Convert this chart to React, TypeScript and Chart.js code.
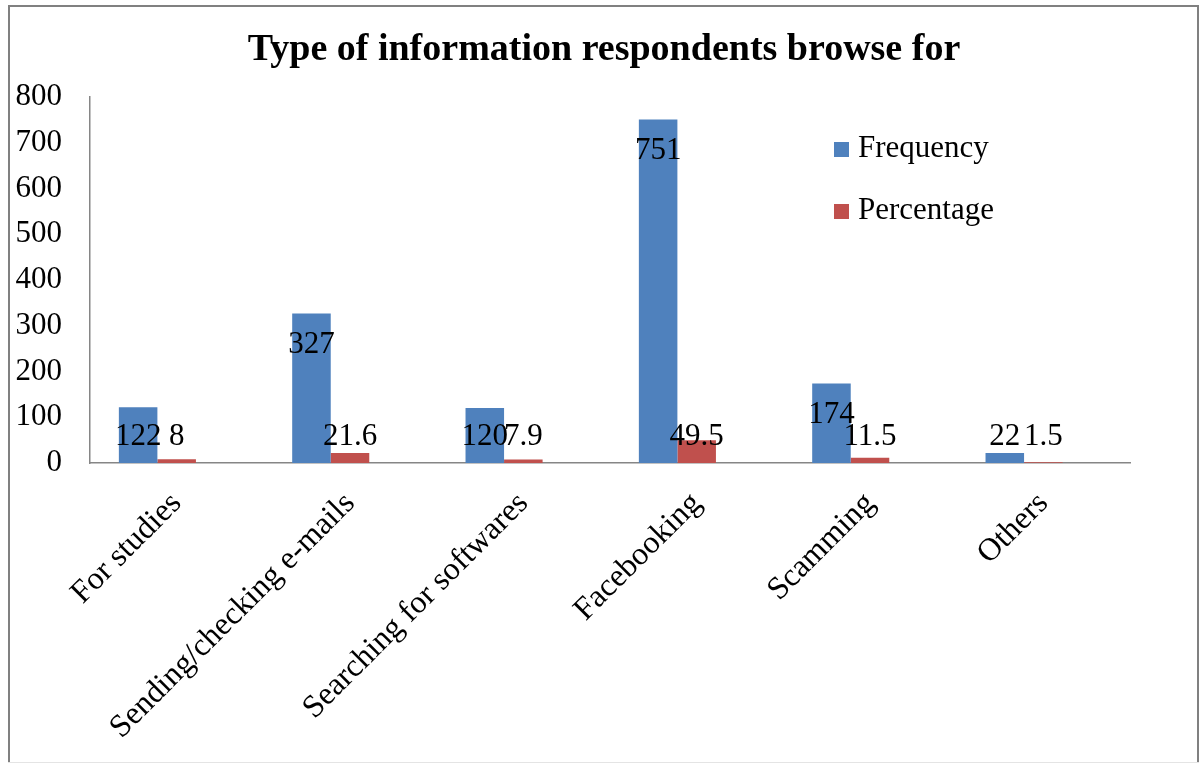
import React, { useEffect, useRef } from "react";
import { Chart, registerables } from "chart.js";

Chart.register(...registerables);

const chartTitle = "Type of information respondents browse for";
const categories = [
  "For studies",
  "Sending/checking e-mails",
  "Searching for softwares",
  "Facebooking",
  "Scamming",
  "Others",
];
const frequency = [122, 327, 120, 751, 174, 22];
const percentage = [8, 21.6, 7.9, 49.5, 11.5, 1.5];
// the source chart reserves an (empty) third column slot in each group
const emptySlot = [null, null, null, null, null, null];
const seriesNames = ["Frequency", "Percentage"];
const seriesColors = ["#4F81BD", "#C0504D"];
const yMin = 0;
const yMax = 800;
const yStep = 100;

const FONT = "'Liberation Serif', 'Times New Roman', serif";

const framePlugin = {
  id: "frame",
  beforeDraw(chart: any) {
    const ctx = chart.ctx;
    ctx.save();
    ctx.fillStyle = "#ffffff";
    ctx.fillRect(0, 0, chart.width, chart.height);
    ctx.strokeStyle = "#808080";
    ctx.lineWidth = 2;
    ctx.strokeRect(9, 6, 1189, 775);
    ctx.fillStyle = "#e4e4e4";
    ctx.fillRect(8, 762, 1191, 1);
    ctx.restore();
  },
};

const titlePlugin = {
  id: "customTitle",
  afterDraw(chart: any) {
    const ctx = chart.ctx;
    ctx.save();
    ctx.font = `bold 38px ${FONT}`;
    ctx.fillStyle = "#000";
    ctx.textAlign = "center";
    ctx.textBaseline = "middle";
    ctx.fillText(chartTitle, 604, 50);
    ctx.restore();
  },
};

const legendPlugin = {
  id: "customLegend",
  afterDraw(chart: any) {
    const ctx = chart.ctx;
    ctx.save();
    ctx.font = `31px ${FONT}`;
    ctx.textAlign = "left";
    ctx.textBaseline = "middle";
    const rows = [149, 211];
    seriesNames.forEach((name, i) => {
      ctx.fillStyle = seriesColors[i];
      ctx.fillRect(834, rows[i] - 7, 15, 15);
      ctx.fillStyle = "#000";
      ctx.fillText(name, 858, rows[i]);
    });
    ctx.restore();
  },
};

const valueLabelPlugin = {
  id: "valueLabels",
  afterDatasetsDraw(chart: any) {
    const ctx = chart.ctx;
    const y0 = chart.scales.y.getPixelForValue(0);
    ctx.save();
    ctx.font = `31px ${FONT}`;
    ctx.fillStyle = "#000";
    ctx.textAlign = "center";
    ctx.textBaseline = "middle";
    [0, 1].forEach((di) => {
      const meta = chart.getDatasetMeta(di);
      const values = chart.data.datasets[di].data;
      meta.data.forEach((bar: any, i: number) => {
        const v = values[i];
        if (v === null || v === undefined) return;
        const cy = Math.min(bar.y + 31, y0 - 26);
        ctx.fillText(String(v), bar.x, cy);
      });
    });
    ctx.restore();
  },
};

export default function App() {
  const canvasRef = useRef<HTMLCanvasElement | null>(null);

  useEffect(() => {
    if (!canvasRef.current) return;
    const chart = new Chart(canvasRef.current, {
      type: "bar",
      data: {
        labels: categories,
        datasets: [
          {
            label: seriesNames[0],
            data: frequency,
            backgroundColor: seriesColors[0],
            categoryPercentage: 0.667,
            barPercentage: 1,
          },
          {
            label: seriesNames[1],
            data: percentage,
            backgroundColor: seriesColors[1],
            categoryPercentage: 0.667,
            barPercentage: 1,
          },
          {
            label: "",
            data: emptySlot,
            backgroundColor: "rgba(0,0,0,0)",
            categoryPercentage: 0.667,
            barPercentage: 1,
          },
        ],
      },
      options: {
        responsive: false,
        animation: false,
        devicePixelRatio: 1,
        layout: { padding: { top: 97, right: 70, bottom: 0, left: 0 } },
        plugins: {
          legend: { display: false },
          title: { display: false },
          tooltip: { enabled: false },
        },
        scales: {
          x: {
            grid: { display: false, drawTicks: false },
            border: { display: true, color: "#868686", width: 1.5 },
            ticks: {
              color: "#000",
              font: { family: FONT, size: 32 },
              minRotation: 45,
              maxRotation: 45,
              padding: 22,
              autoSkip: false,
            },
            afterFit: (s: any) => {
              s.height = 300;
            },
          },
          y: {
            min: yMin,
            max: yMax,
            grid: { display: false, drawTicks: false },
            border: { display: true, color: "#868686", width: 1.5 },
            ticks: {
              stepSize: yStep,
              color: "#000",
              font: { family: FONT, size: 31 },
              padding: 28,
            },
            afterFit: (s: any) => {
              s.width = 90;
            },
          },
        },
      },
      plugins: [framePlugin, valueLabelPlugin, legendPlugin, titlePlugin],
    });
    return () => chart.destroy();
  }, []);

  return (
    <div style={{ position: "absolute", left: 0, top: 0, width: 1200, height: 763 }}>
      <canvas ref={canvasRef} width={1200} height={763} style={{ display: "block", width: 1200, height: 763 }} />
    </div>
  );
}
